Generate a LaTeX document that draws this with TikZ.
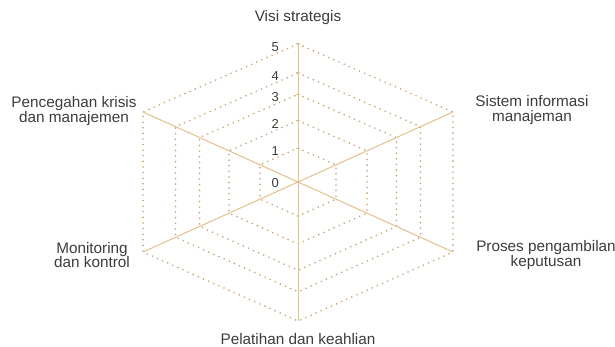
\documentclass[tikz,border=0pt]{standalone}
\usepackage{fontspec}
\setmainfont{Liberation Sans}
\usetikzlibrary{positioning}
\definecolor{radarSpoke}{RGB}{226,192,140}
\definecolor{radarDot}{RGB}{200,162,110}
\definecolor{radarText}{RGB}{60,60,60}

\begin{document}
\begin{tikzpicture}[
  x=1pt,y=-1pt,
  every node/.style={font=\fontsize{15.3}{14.5}\selectfont,text=radarText},
  spoke/.style={draw=radarSpoke,line width=1pt},
  ring/.style={draw=radarDot,line width=1.8pt,line cap=round,dash pattern=on 0pt off 5.6pt},
  axislabel/.style={align=center,inner sep=0pt},
  levellabel/.style={font=\fontsize{13}{13}\selectfont,anchor=east,inner sep=0pt}
]
  \useasboundingbox (0,0) rectangle (615,347);

  \begin{scope}[shift={(298,182)}]
    % Hexagon corners.
    \coordinate (o) at (0,0);
    \coordinate (vTop) at (0,-138);
    \coordinate (vUR) at (155,-70);
    \coordinate (vLR) at (155,70);
    \coordinate (vBot) at (0,139);
    \coordinate (vLL) at (-155,70);
    \coordinate (vUL) at (-155,-70);

    % Dotted level rings.
    \foreach \f in {0.245,0.445,0.635,0.79,1} {
      \draw[ring] (0,{-138*\f}) -- ({155*\f},{-70*\f}) -- ({155*\f},{70*\f})
        -- (0,{139*\f}) -- ({-155*\f},{70*\f}) -- ({-155*\f},{-70*\f}) -- cycle;
    }

    % Spokes.
    \foreach \v in {vTop,vUR,vLR,vBot,vLL,vUL} {
      \draw[spoke] (o) -- (\v);
    }

    % Ticks and scale.
    \foreach \f/\n in {0.245/1,0.445/2,0.635/3,0.79/4,1/5} {
      \draw[spoke] (-2,{-138*\f}) -- (2,{-138*\f});
      \node[levellabel] (lvl\n) at (-19,{-138*\f+3}) {\n};
    }
    \node[levellabel] (lvl0) at (-19,1) {0};
  \end{scope}

  % Axis labels.
  \node[axislabel] (visi) at (298,18) {Visi strategis};
  \node[axislabel] (sistem) at (532,110) {Sistem informasi\\manajeman};
  \node[axislabel] (proses) at (546,255) {Proses pengambilan\\keputusan};
  \node[axislabel] (pelatihan) at (298,339) {Pelatihan dan keahlian};
  \node[axislabel] (monitor) at (92,255) {Monitoring\\dan kontrol};
  \node[axislabel] (cegah) at (74,111) {Pencegahan krisis\\dan manajemen};
\end{tikzpicture}
\end{document}
